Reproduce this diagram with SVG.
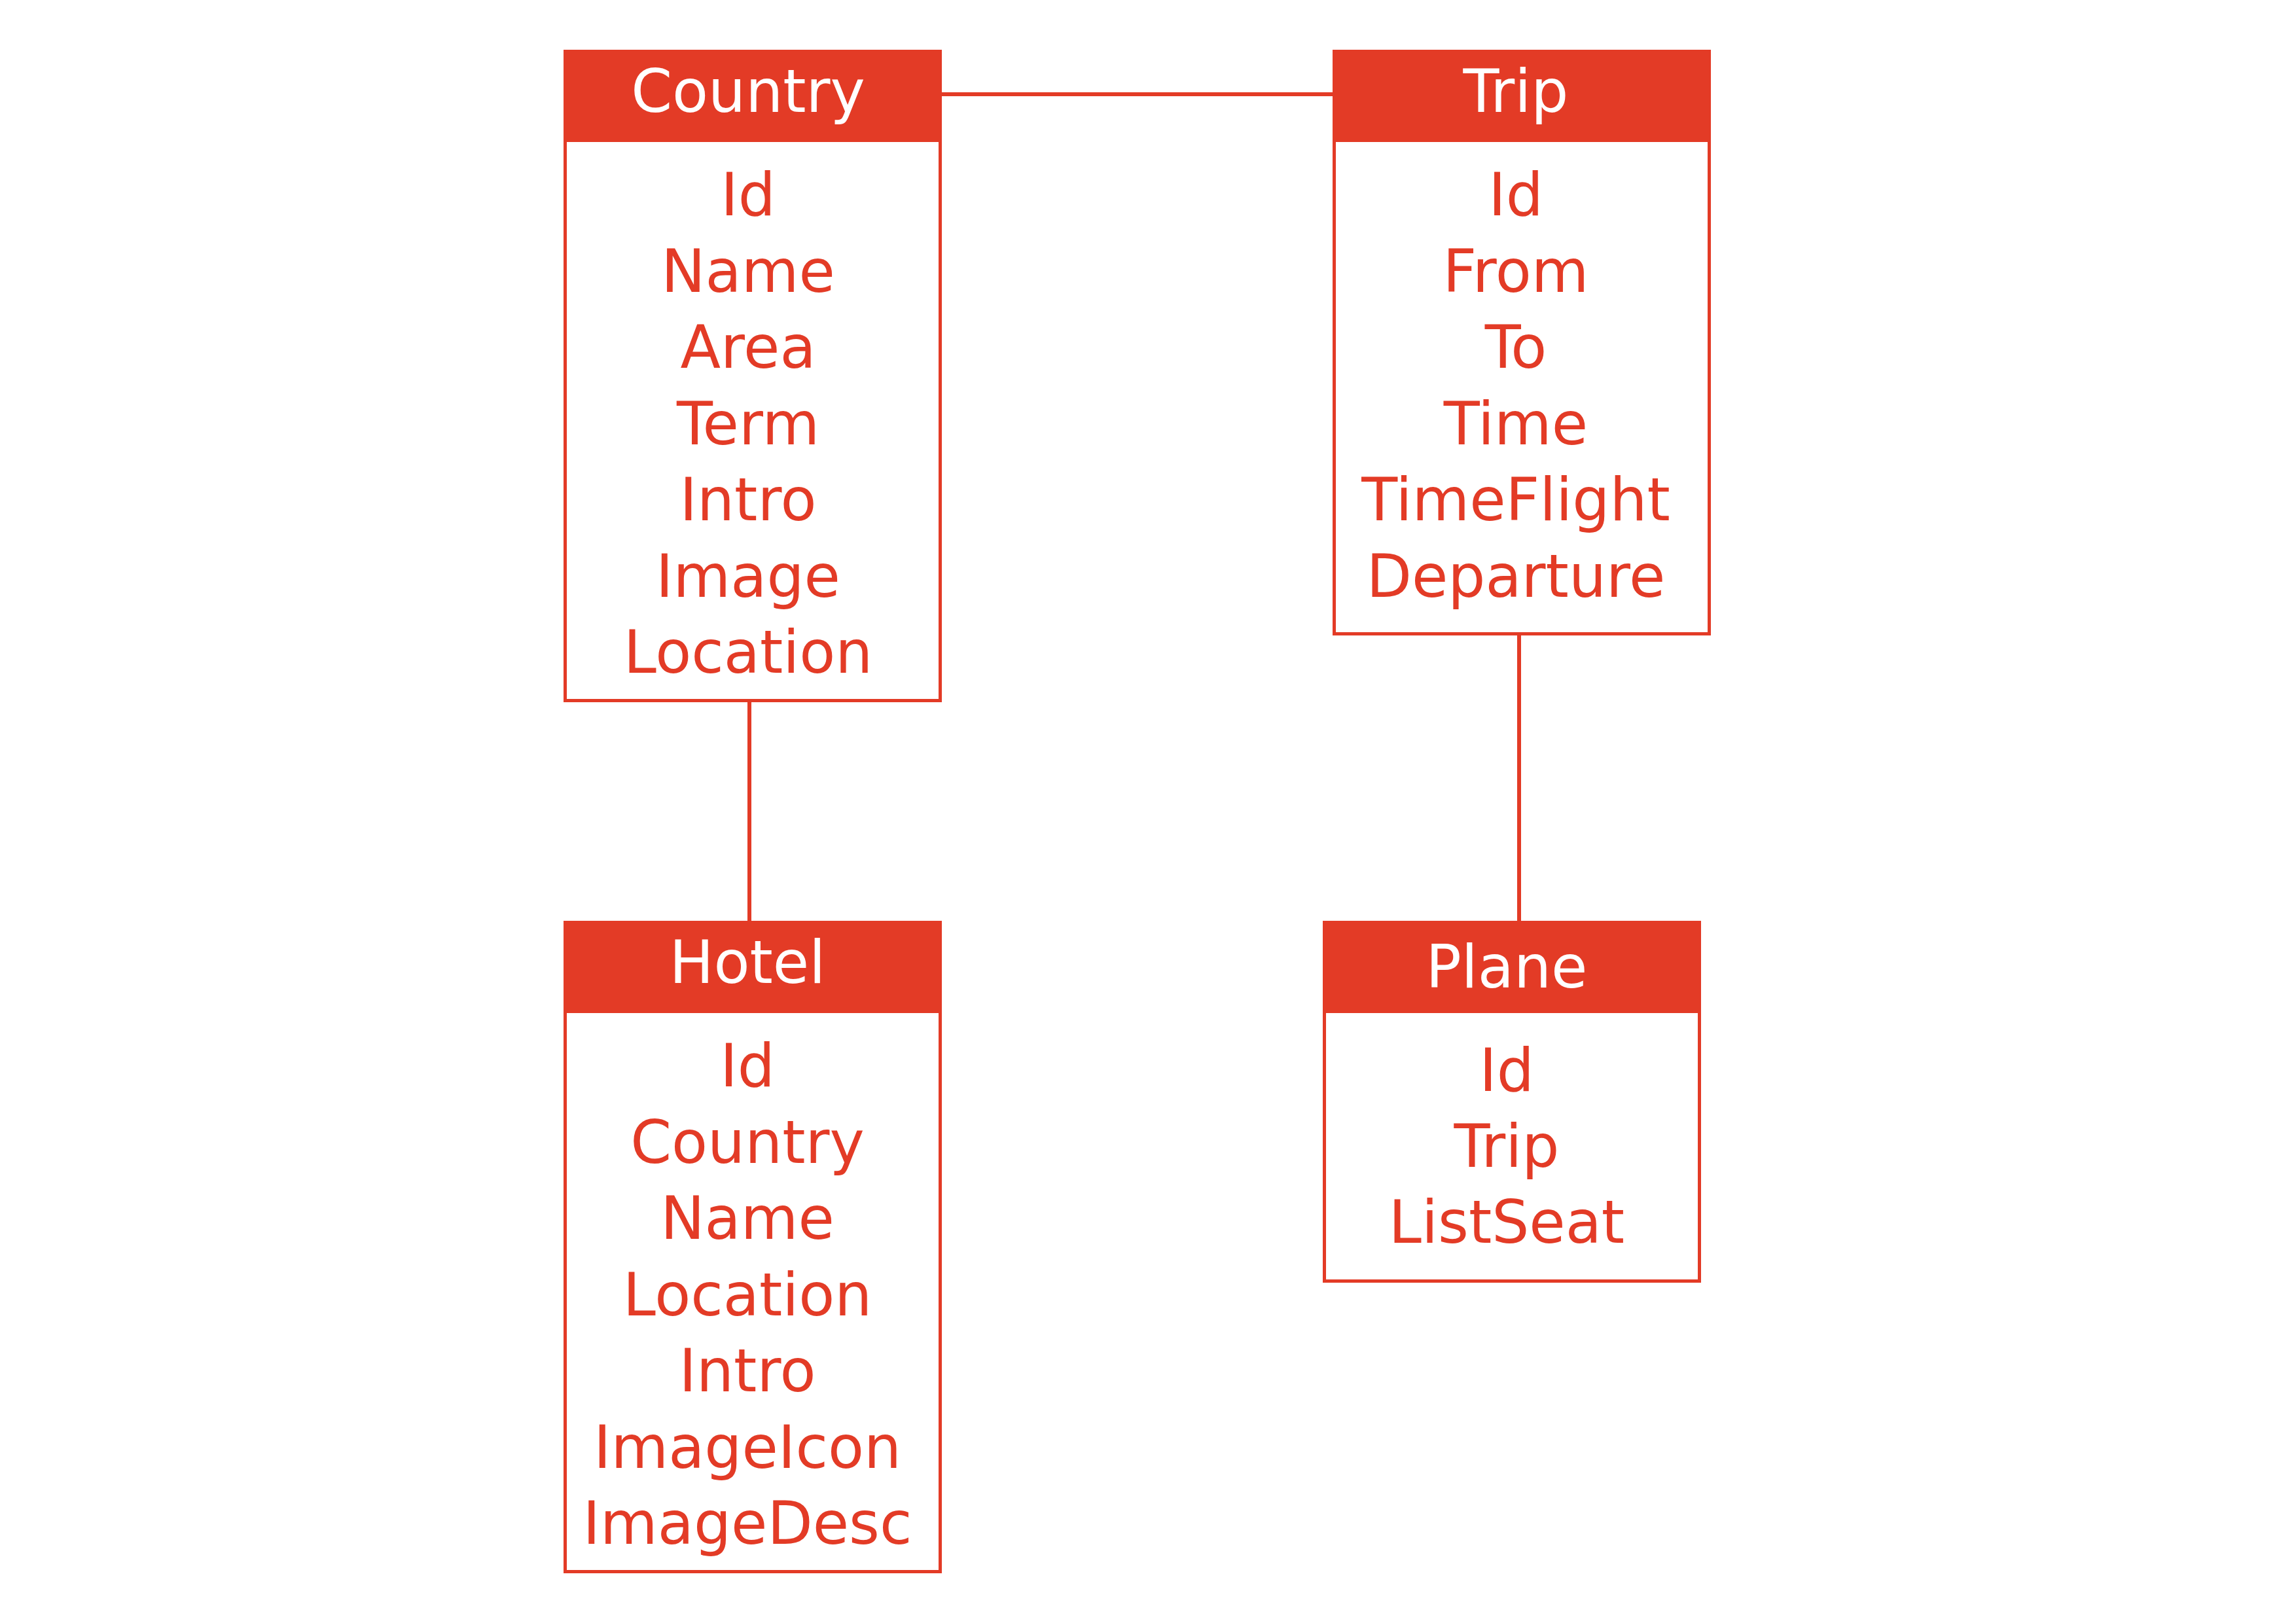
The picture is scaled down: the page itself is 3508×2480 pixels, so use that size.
<svg xmlns="http://www.w3.org/2000/svg" width="3508" height="2480" viewBox="0 0 3508 2480">
<style>
.box{fill:#FFFFFF;stroke:#E33B26;stroke-width:5}
.hdr{fill:#E33B26}
.conn{stroke:#E33B26;stroke-width:6;fill:none}
text{font-family:"DejaVu Sans","Liberation Sans",sans-serif;font-size:90px;text-anchor:middle}
.t{fill:#FFFFFF}
.f{fill:#E33B26}
</style>
<rect width="3508" height="2480" fill="#FFFFFF"/>
<g id="connectors">
<line class="conn" x1="1439" y1="144" x2="2036" y2="144"/>
<line class="conn" x1="1145" y1="1073" x2="1145" y2="1407"/>
<line class="conn" x1="2321" y1="971" x2="2321" y2="1407"/>
</g>
<g id="country">
<rect class="box" x="863.5" y="78.5" width="573" height="992"/>
<rect class="hdr" x="861" y="76" width="578" height="141"/>
<text class="t" x="1143" y="171">Country</text>
<text class="f" x="1143" y="329">Id</text>
<text class="f" x="1143" y="445.5">Name</text>
<text class="f" x="1143" y="562">Area</text>
<text class="f" x="1143" y="678.5">Term</text>
<text class="f" x="1143" y="795">Intro</text>
<text class="f" x="1143" y="911.5">Image</text>
<text class="f" x="1143" y="1028">Location</text>
</g>
<g id="trip">
<rect class="box" x="2038.5" y="78.5" width="573" height="890"/>
<rect class="hdr" x="2036" y="76" width="578" height="141"/>
<text class="t" x="2316" y="171">Trip</text>
<text class="f" x="2316" y="329">Id</text>
<text class="f" x="2316" y="445.5">From</text>
<text class="f" x="2316" y="562">To</text>
<text class="f" x="2316" y="678.5">Time</text>
<text class="f" x="2316" y="795">TimeFlight</text>
<text class="f" x="2316" y="911.5">Departure</text>
</g>
<g id="hotel">
<rect class="box" x="863.5" y="1409.5" width="573" height="992"/>
<rect class="hdr" x="861" y="1407" width="578" height="141"/>
<text class="t" x="1142" y="1502">Hotel</text>
<text class="f" x="1142" y="1660">Id</text>
<text class="f" x="1142" y="1776.5">Country</text>
<text class="f" x="1142" y="1893">Name</text>
<text class="f" x="1142" y="2009.5">Location</text>
<text class="f" x="1142" y="2126">Intro</text>
<text class="f" x="1142" y="2242.5">ImageIcon</text>
<text class="f" x="1142" y="2359">ImageDesc</text>
</g>
<g id="plane">
<rect class="box" x="2023.5" y="1409.5" width="573" height="548"/>
<rect class="hdr" x="2021" y="1407" width="578" height="141"/>
<text class="t" x="2302" y="1509">Plane</text>
<text class="f" x="2302" y="1667">Id</text>
<text class="f" x="2302" y="1783">Trip</text>
<text class="f" x="2302" y="1899">ListSeat</text>
</g>
</svg>
